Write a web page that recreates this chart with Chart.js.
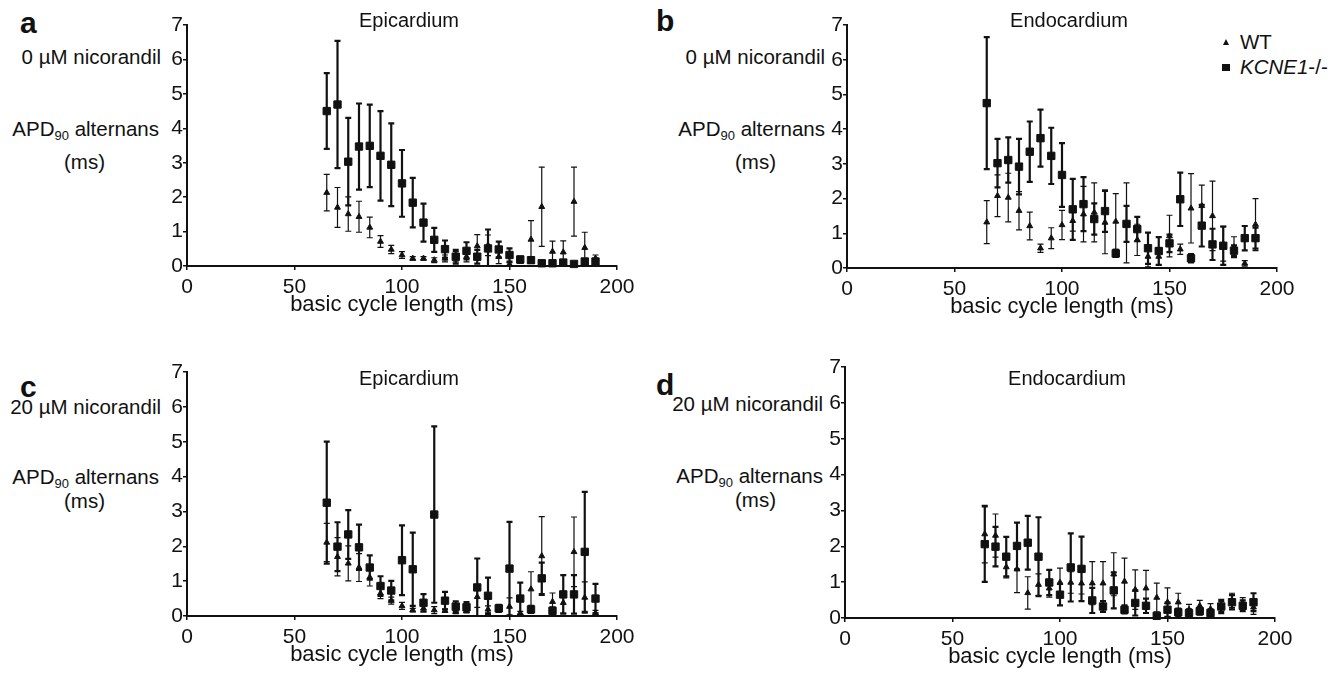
<!DOCTYPE html>
<html lang="en">
<head>
<meta charset="UTF-8">
<title>APD90 alternans vs basic cycle length</title>
<style>
  body {
    margin: 0;
    width: 1338px;
    height: 674px;
    position: relative;
    overflow: hidden;
    background: #fff;
    color: #111;
    font-family: "Liberation Sans", Arial, sans-serif;
  }
  .box { position: absolute; }
  .lbl { position: absolute; font-size: 20.5px; line-height: 24px; white-space: nowrap; }
  .lbl sub { font-size: 13px; vertical-align: -4px; line-height: 0; }
  .letter { position: absolute; font-size: 30px; font-weight: bold; line-height: 30px; }
  .mk-tri {
    position: absolute; width: 0; height: 0;
    border-left: 3.5px solid transparent; border-right: 3.5px solid transparent;
    border-bottom: 6px solid #111;
  }
  .mk-sq { position: absolute; width: 8px; height: 7px; background: #111; }
</style>
</head>
<body>

<!-- panel letters and side labels -->
<div class="letter" style="left:20px; top:8px;">a</div>
<div class="letter" style="left:656px; top:6px;">b</div>
<div class="letter" style="left:20px; top:372px;">c</div>
<div class="letter" style="left:656px; top:370px;">d</div>

<div class="lbl" style="right:1177px; top:45px;">0 µM nicorandil</div>
<div class="lbl" style="right:1179px; top:117px;">APD<sub>90</sub> alternans</div>
<div class="lbl" style="left:64px; top:150px;">(ms)</div>

<div class="lbl" style="right:513px; top:45px;">0 µM nicorandil</div>
<div class="lbl" style="right:513px; top:117px;">APD<sub>90</sub> alternans</div>
<div class="lbl" style="left:735px; top:150px;">(ms)</div>

<div class="lbl" style="right:1177px; top:395px;">20 µM nicorandil</div>
<div class="lbl" style="right:1179px; top:465px;">APD<sub>90</sub> alternans</div>
<div class="lbl" style="left:64px; top:489px;">(ms)</div>

<div class="lbl" style="right:515px; top:392px;">20 µM nicorandil</div>
<div class="lbl" style="right:515px; top:464px;">APD<sub>90</sub> alternans</div>
<div class="lbl" style="left:735px; top:488px;">(ms)</div>

<!-- legend (panel b) -->
<div class="mk-tri" style="left:1223px; top:39px;"></div>
<div class="lbl" style="left:1240px; top:30px;">WT</div>
<div class="mk-sq" style="left:1222px; top:64px;"></div>
<div class="lbl" style="left:1240px; top:55px;"><i>KCNE1</i>-/-</div>

<div class="box" id="boxA"><canvas id="chartA"></canvas></div>
<div class="box" id="boxB"><canvas id="chartB"></canvas></div>
<div class="box" id="boxC"><canvas id="chartC"></canvas></div>
<div class="box" id="boxD"><canvas id="chartD"></canvas></div>

<script src="https://cdn.jsdelivr.net/npm/chart.js"></script>
<script>
// basic cycle length (ms)
const cycle = [65, 70, 75, 80, 85, 90, 95, 100, 105, 110, 115, 120, 125,
               130, 135, 140, 145, 150, 155, 160, 165, 170, 175, 180, 185, 190];
const xTicks = [0, 50, 100, 150, 200];
const yTicks = [0, 1, 2, 3, 4, 5, 6, 7];

// a: epicardium, 0 uM nicorandil
const aWT      = [2.13, 1.70, 1.51, 1.43, 1.12, 0.71, 0.48, 0.32, 0.22, 0.22, 0.17, 0.22, 0.27,
                  0.27, 0.58, 0.60, 0.27, 0.05, 0.13, 0.77, 1.72, 0.42, 0.40, 1.87, 0.53, 0.22];
const aWTerr   = [0.53, 0.58, 0.50, 0.45, 0.30, 0.17, 0.12, 0.10, 0.05, 0.05, 0.07, 0.10, 0.15,
                  0.15, 0.33, 0.30, 0.20, 0.05, 0.05, 0.55, 1.15, 0.30, 0.33, 1.00, 0.45, 0.10];
const aKO      = [4.50, 4.69, 3.03, 3.47, 3.49, 3.20, 2.94, 2.40, 1.84, 1.26, 0.76, 0.49, 0.27,
                  0.44, 0.27, 0.51, 0.48, 0.32, 0.19, 0.17, 0.08, 0.08, 0.10, 0.06, 0.13, 0.13];
const aKOerr   = [1.10, 1.85, 1.27, 1.25, 1.20, 1.30, 1.20, 0.97, 0.72, 0.55, 0.35, 0.25, 0.20,
                  0.25, 0.20, 0.55, 0.23, 0.19, 0.08, 0.08, 0.05, 0.05, 0.05, 0.04, 0.08, 0.08];

// b: endocardium, 0 uM nicorandil
const bWT      = [1.32, 2.08, 2.03, 1.65, 1.21, 0.57, 0.86, 1.24, 1.36, 1.55, 1.60, 1.31, 1.34,
                  1.30, 0.81, 0.33, 0.33, 0.92, 0.54, 1.72, 1.79, 1.50, 0.70, 0.60, 0.13, 1.25];
const bWTerr   = [0.62, 0.60, 0.70, 0.55, 0.40, 0.12, 0.30, 0.42, 0.30, 0.80, 0.85, 0.90, 0.80,
                  1.15, 0.45, 0.30, 0.25, 0.60, 0.15, 1.00, 0.60, 1.00, 0.50, 0.30, 0.08, 0.75];
const bKO      = [4.75, 3.02, 3.11, 2.92, 3.35, 3.74, 3.23, 2.68, 1.69, 1.84, 1.41, 1.64, 0.42,
                  1.27, 1.12, 0.57, 0.49, 0.71, 1.98, 0.28, 1.22, 0.68, 0.64, 0.50, 0.86, 0.86];
const bKOerr   = [1.90, 0.70, 0.65, 0.80, 0.87, 0.82, 0.81, 0.92, 0.88, 0.78, 0.45, 0.60, 0.10,
                  0.52, 0.35, 0.45, 0.40, 0.25, 0.77, 0.12, 0.60, 0.45, 0.55, 0.15, 0.35, 0.30];

// c: epicardium, 20 uM nicorandil
const cWT      = [2.11, 1.70, 1.51, 1.39, 1.11, 0.65, 0.44, 0.29, 0.17, 0.22, 0.17, 0.15, 0.12,
                  0.15, 0.55, 0.19, 0.22, 0.27, 0.08, 0.77, 1.72, 0.41, 0.38, 1.84, 0.53, 0.08];
const cWTerr   = [0.55, 0.55, 0.50, 0.40, 0.25, 0.15, 0.10, 0.10, 0.05, 0.10, 0.10, 0.05, 0.05,
                  0.05, 0.30, 0.10, 0.05, 0.25, 0.05, 0.50, 1.13, 0.25, 0.30, 1.00, 0.45, 0.08];
const cKO      = [3.25, 1.99, 2.34, 1.97, 1.39, 0.86, 0.73, 1.60, 1.34, 0.38, 2.91, 0.44, 0.27,
                  0.25, 0.82, 0.58, 0.22, 1.36, 0.50, 0.19, 1.08, 0.15, 0.62, 0.62, 1.84, 0.50];
const cKOerr   = [1.75, 0.70, 0.70, 0.65, 0.35, 0.28, 0.28, 1.00, 1.05, 0.25, 2.53, 0.25, 0.15,
                  0.15, 0.83, 0.52, 0.10, 1.34, 0.46, 0.10, 0.45, 0.10, 0.55, 0.55, 1.72, 0.42];

// d: endocardium, 20 uM nicorandil
const dWT      = [2.34, 2.30, 1.42, 1.36, 0.70, 0.93, 0.83, 0.99, 0.99, 0.97, 0.97, 0.97, 1.22,
                  1.02, 0.79, 0.83, 0.57, 0.44, 0.44, 0.23, 0.34, 0.25, 0.32, 0.49, 0.42, 0.30];
const dWTerr   = [0.80, 0.60, 0.30, 0.65, 0.45, 0.30, 0.25, 0.40, 0.30, 0.30, 0.60, 0.60, 0.60,
                  0.65, 0.55, 0.50, 0.40, 0.40, 0.25, 0.15, 0.15, 0.15, 0.20, 0.20, 0.15, 0.20];
const dKO      = [2.06, 1.99, 1.71, 2.01, 2.10, 1.71, 0.99, 0.65, 1.41, 1.37, 0.49, 0.32, 0.77,
                  0.23, 0.42, 0.34, 0.06, 0.23, 0.16, 0.14, 0.19, 0.14, 0.32, 0.44, 0.34, 0.44];
const dKOerr   = [1.05, 0.55, 0.55, 0.65, 0.75, 1.10, 0.35, 0.30, 0.95, 0.90, 0.35, 0.15, 0.50,
                  0.10, 0.35, 0.20, 0.05, 0.20, 0.10, 0.10, 0.10, 0.10, 0.15, 0.20, 0.15, 0.25];

const INK = '#111';
const FONT = "'Liberation Sans', Arial, sans-serif";

// vertical error bars drawn through the y scale
const errorBars = {
  id: 'errorBars',
  beforeDatasetsDraw(chart) {
    const { ctx, chartArea } = chart;
    const yScale = chart.scales.y;
    ctx.save();
    ctx.beginPath();
    ctx.rect(chartArea.left - 5, chartArea.top - 10, chartArea.right - chartArea.left + 10, chartArea.bottom - chartArea.top + 10);
    ctx.clip();
    chart.data.datasets.forEach((ds, i) => {
      const meta = chart.getDatasetMeta(i);
      ctx.strokeStyle = INK;
      ctx.lineWidth = ds.errWidth;
      meta.data.forEach((pt, j) => {
        const v = ds.data[j].y, e = ds.errors[j];
        const yTop = yScale.getPixelForValue(v + e);
        const yBot = yScale.getPixelForValue(Math.max(v - e, 0));
        ctx.beginPath();
        ctx.moveTo(pt.x, yTop); ctx.lineTo(pt.x, yBot);
        ctx.moveTo(pt.x - 3, yTop); ctx.lineTo(pt.x + 3, yTop);
        if (v - e > 0) { ctx.moveTo(pt.x - 3, yBot); ctx.lineTo(pt.x + 3, yBot); }
        ctx.stroke();
      });
    });
    ctx.restore();
  }
};

// panel heading (Epicardium / Endocardium) placed over the plot area
const panelTitle = {
  id: 'panelTitle',
  afterDraw(chart, args, opts) {
    const { ctx, chartArea } = chart;
    ctx.save();
    ctx.font = '20px ' + FONT;
    ctx.fillStyle = INK;
    ctx.textAlign = 'center';
    ctx.textBaseline = 'alphabetic';
    ctx.fillText(opts.text, (chartArea.left + chartArea.right) / 2 + 7, chartArea.top + opts.dy);
    ctx.restore();
  }
};

function makePanel(boxId, canvasId, geo, title, titleDy, wt, wtErr, ko, koErr) {
  const YW = 30, PR = 25, XH = 52;
  const box = document.getElementById(boxId);
  box.style.left = (geo.L - YW) + 'px';
  box.style.top = geo.top + 'px';
  box.style.width = (YW + geo.R - geo.L + PR) + 'px';
  box.style.height = (geo.B - geo.top + XH) + 'px';

  const axisGrid = { display: true, drawOnChartArea: false, drawTicks: true, tickLength: 4, color: INK, lineWidth: 1.5 };
  const axisBorder = { display: true, color: INK, width: 2 };

  return new Chart(document.getElementById(canvasId), {
    type: 'scatter',
    data: {
      datasets: [
        {
          label: 'WT',
          data: cycle.map((x, i) => ({ x: x, y: wt[i] })),
          errors: wtErr,
          errWidth: 1.2,
          pointStyle: 'triangle',
          pointRadius: 3.4,
          backgroundColor: INK,
          borderColor: INK,
          borderWidth: 1,
          clip: false
        },
        {
          label: 'KCNE1-/-',
          data: cycle.map((x, i) => ({ x: x, y: ko[i] })),
          errors: koErr,
          errWidth: 2.2,
          pointStyle: 'rect',
          pointRadius: 5.2,
          backgroundColor: INK,
          borderColor: INK,
          borderWidth: 1,
          clip: false
        }
      ]
    },
    options: {
      responsive: true,
      maintainAspectRatio: false,
      animation: false,
      layout: { padding: { top: geo.T - geo.top, right: PR, left: 0, bottom: 0 } },
      plugins: {
        legend: { display: false },
        tooltip: { enabled: false },
        panelTitle: { text: title, dy: titleDy }
      },
      scales: {
        x: {
          type: 'linear',
          min: xTicks[0],
          max: xTicks[xTicks.length - 1],
          afterBuildTicks: (s) => { s.ticks = xTicks.map(v => ({ value: v })); },
          afterFit: (s) => { s.height = XH; },
          ticks: { color: INK, padding: 5, font: { family: FONT, size: 21 } },
          grid: axisGrid,
          border: axisBorder,
          title: { display: true, text: 'basic cycle length (ms)', color: INK, padding: 0, font: { family: FONT, size: 22 } }
        },
        y: {
          min: yTicks[0],
          max: yTicks[yTicks.length - 1],
          afterBuildTicks: (s) => { s.ticks = yTicks.map(v => ({ value: v })); },
          afterFit: (s) => { s.width = YW; },
          ticks: { color: INK, padding: 0, font: { family: FONT, size: 21 } },
          grid: axisGrid,
          border: axisBorder
        }
      }
    },
    plugins: [errorBars, panelTitle]
  });
}

makePanel('boxA', 'chartA', { L: 187, R: 617, T: 25, B: 266, top: 0 }, 'Epicardium', 2, aWT, aWTerr, aKO, aKOerr);
makePanel('boxB', 'chartB', { L: 847, R: 1277, T: 25, B: 268, top: 0 }, 'Endocardium', 2, bWT, bWTerr, bKO, bKOerr);
makePanel('boxC', 'chartC', { L: 187, R: 617, T: 372, B: 616, top: 330 }, 'Epicardium', 13, cWT, cWTerr, cKO, cKOerr);
makePanel('boxD', 'chartD', { L: 845, R: 1275, T: 367, B: 618, top: 330 }, 'Endocardium', 18, dWT, dWTerr, dKO, dKOerr);
</script>
</body>
</html>
